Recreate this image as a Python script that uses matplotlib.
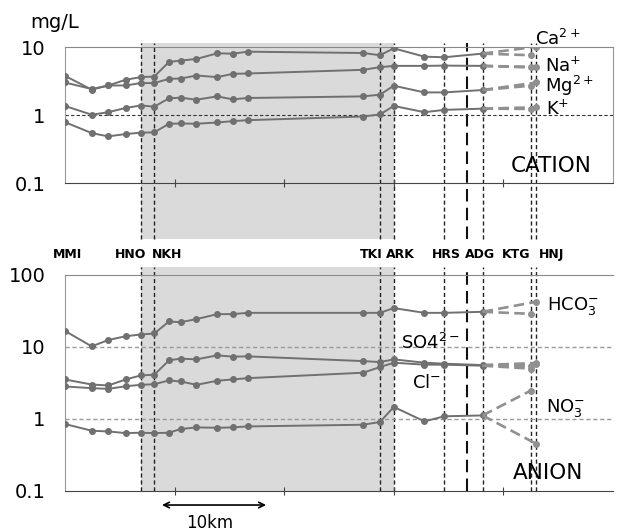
import numpy as np
import matplotlib
matplotlib.use('Agg')
import matplotlib.pyplot as plt

# distance along river (km) of the sampling points, MMI ... ADG
dist = [0, 2.44, 3.95, 5.54, 6.9, 8.15, 9.49, 10.55, 12.0, 13.9, 15.3, 16.67,
        27.2, 28.74, 30.0, 32.8, 34.6, 38.1]
dist_ktg = 42.5
dist_hnj = 43.0

# cations (mg/L)
ca = [3.77, 2.36, 2.72, 3.30, 3.61, 3.68, 6.04, 6.31, 6.68, 8.09, 7.98, 8.54,
      8.17, 7.57, 9.57, 7.21, 7.07, 8.0]
na = [3.01, 2.41, 2.72, 2.72, 2.95, 2.95, 3.41, 3.44, 3.81, 3.61, 4.03, 4.08,
      4.62, 5.05, 5.28, 5.28, 5.33, 5.28]
mg = [1.36, 1.01, 1.10, 1.27, 1.38, 1.33, 1.76, 1.80, 1.68, 1.88, 1.70, 1.78,
      1.88, 1.99, 2.70, 2.15, 2.15, 2.33]
k = [0.785, 0.542, 0.485, 0.525, 0.55, 0.556, 0.744, 0.751, 0.744, 0.777, 0.812, 0.84,
     0.95, 1.02, 1.36, 1.10, 1.19, 1.24]
cat_ktg = [7.57, 5.0, 2.70, 1.23]
cat_hnj = [10.1, 5.1, 3.01, 1.30]

# anions (mg/L)
hco3 = [16.7, 10.2, 12.5, 14.1, 14.9, 15.4, 22.6, 22.1, 24.4, 28.6, 28.6, 29.8,
        29.8, 29.8, 34.7, 29.8, 29.8, 30.8]
so4 = [3.54, 3.01, 2.92, 3.54, 4.02, 4.12, 6.52, 6.89, 6.73, 7.66, 7.34, 7.41,
       6.37, 6.17, 6.73, 6.05, 5.86, 5.61]
cl = [2.83, 2.68, 2.62, 2.85, 2.98, 3.04, 3.43, 3.32, 2.98, 3.40, 3.54, 3.69,
      4.39, 5.26, 6.05, 5.68, 5.68, 5.50]
no3 = [0.851, 0.687, 0.671, 0.637, 0.644, 0.637, 0.644, 0.725, 0.764, 0.755, 0.764, 0.788,
       0.832, 0.908, 1.47, 0.926, 1.09, 1.12]
an_ktg = [28.9, 5.4, 5.0, 2.48]
an_hnj = [42.5, 6.0, 5.8, 0.452]

# station marker lines and labels
vlines = [6.9, 8.15, 28.74, 30.0, 34.6, 38.1, 42.5, 43.0]
heavy_line = 36.7
stations = ['MMI', 'HNO', 'NKH', 'TKI', 'ARK', 'HRS', 'ADG', 'KTG', 'HNJ']
station_x = [0.27, 6.0, 9.3, 27.9, 30.6, 34.8, 37.9, 41.2, 44.4]
shade = (6.9, 30.0)

line_c = '#707070'
ext_c = '#909090'

fig = plt.figure(figsize=(6.17, 5.32), dpi=100)
ax1 = fig.add_axes([0.1053, 0.6560, 0.8882, 0.2556])
ax2 = fig.add_axes([0.1053, 0.0771, 0.8882, 0.4060])


def setup(ax, ylo, yhi, ext_lo, ext_hi):
    ax.set_yscale('log')
    ax.set_xlim(0, 50)
    ax.set_ylim(ylo, yhi)
    ax.axvspan(shade[0], shade[1], ymin=ext_lo, ymax=ext_hi, color='#dadada',
               lw=0, zorder=0, clip_on=False)
    for x in vlines:
        ax.axvline(x, ymin=ext_lo, ymax=ext_hi, color='#222222', lw=1.0,
                   dashes=(3, 2), zorder=1, clip_on=False)
    ax.axvline(heavy_line, ymin=ext_lo, ymax=ext_hi, color='#111111', lw=1.5,
               dashes=(6, 3), zorder=1, clip_on=False)
    ax.set_xticks([10, 20, 30, 40])
    ax.set_xticklabels([])
    ax.tick_params(axis='x', direction='inout', length=6, color='#444444')
    ax.tick_params(axis='y', which='both', length=0, labelsize=14, pad=14)
    ax.yaxis.set_minor_locator(matplotlib.ticker.NullLocator())
    ax.set_facecolor('none')
    ax.spines['left'].set_color('#999999')
    ax.spines['top'].set_color('#888888')
    ax.spines['right'].set_color('#999999')
    ax.spines['bottom'].set_color('#444444')


def series(ax, vals, v_ktg, v_hnj):
    ax.plot(dist, vals, color=line_c, lw=1.4, marker='o', ms=4, zorder=3)
    for xe, ve in [(dist_ktg, v_ktg), (dist_hnj, v_hnj)]:
        ax.plot([dist[-1], xe], [vals[-1], ve], color=ext_c, lw=1.9,
                dashes=(4, 2), marker='o', ms=4, markevery=[1], zorder=3)


# --- cations
setup(ax1, 0.1, 10, -0.412, 1.03)
ax1.set_yticks([0.1, 1, 10])
ax1.set_yticklabels(['0.1', '1', '10'])
ax1.axhline(1, color='#333333', lw=0.8, dashes=(3, 2), zorder=1)
for i, v in enumerate([ca, na, mg, k]):
    series(ax1, v, cat_ktg[i], cat_hnj[i])

ax1.text(42.9, 13.0, 'Ca$^{2+}$', fontsize=13, va='center', clip_on=False)
ax1.text(43.8, 5.19, 'Na$^{+}$', fontsize=13, va='center')
ax1.text(43.8, 2.65, 'Mg$^{2+}$', fontsize=13, va='center')
ax1.text(43.9, 1.24, 'K$^{+}$', fontsize=13, va='center')
ax1.text(40.7, 0.177, 'CATION', fontsize=15.5, va='center')
fig.text(0.089, 0.958, 'mg/L', fontsize=14, ha='center', va='center')

# --- anions
setup(ax2, 0.1, 100, 0.0, 1.037)
ax2.spines['right'].set_visible(False)
ax2.set_yticks([0.1, 1, 10, 100])
ax2.set_yticklabels(['0.1', '1', '10', '100'])
ax2.axhline(10, color='#999999', lw=1.0, dashes=(3, 2), zorder=1)
ax2.axhline(1, color='#999999', lw=1.0, dashes=(3, 2), zorder=1)
for i, v in enumerate([hco3, so4, cl, no3]):
    series(ax2, v, an_ktg[i], an_hnj[i])

ax2.text(44.0, 37.1, 'HCO$_3^{-}$', fontsize=13, va='center')
ax2.text(30.7, 11.4, 'SO4$^{2-}$', fontsize=13, va='center')
ax2.text(31.7, 3.21, 'Cl$^{-}$', fontsize=13, va='center')
ax2.text(43.9, 1.415, 'NO$_3^{-}$', fontsize=13, va='center')
ax2.text(40.9, 0.178, 'ANION', fontsize=15.5, va='center')

tr = ax2.get_xaxis_transform()
for name, xs in zip(stations, station_x):
    ax2.text(xs, 1.093, name, transform=tr, fontsize=9, fontweight='bold',
             ha='center', va='center')

# 10 km scale bar
ax2.annotate('', xy=(8.6, -0.065), xytext=(18.6, -0.065), xycoords=tr,
             textcoords=tr, arrowprops=dict(arrowstyle='<->', color='black', lw=1.2))
ax2.text(13.2, -0.148, '10km', transform=tr, fontsize=12, ha='center', va='center')

fig.savefig('out.png', dpi=100)
